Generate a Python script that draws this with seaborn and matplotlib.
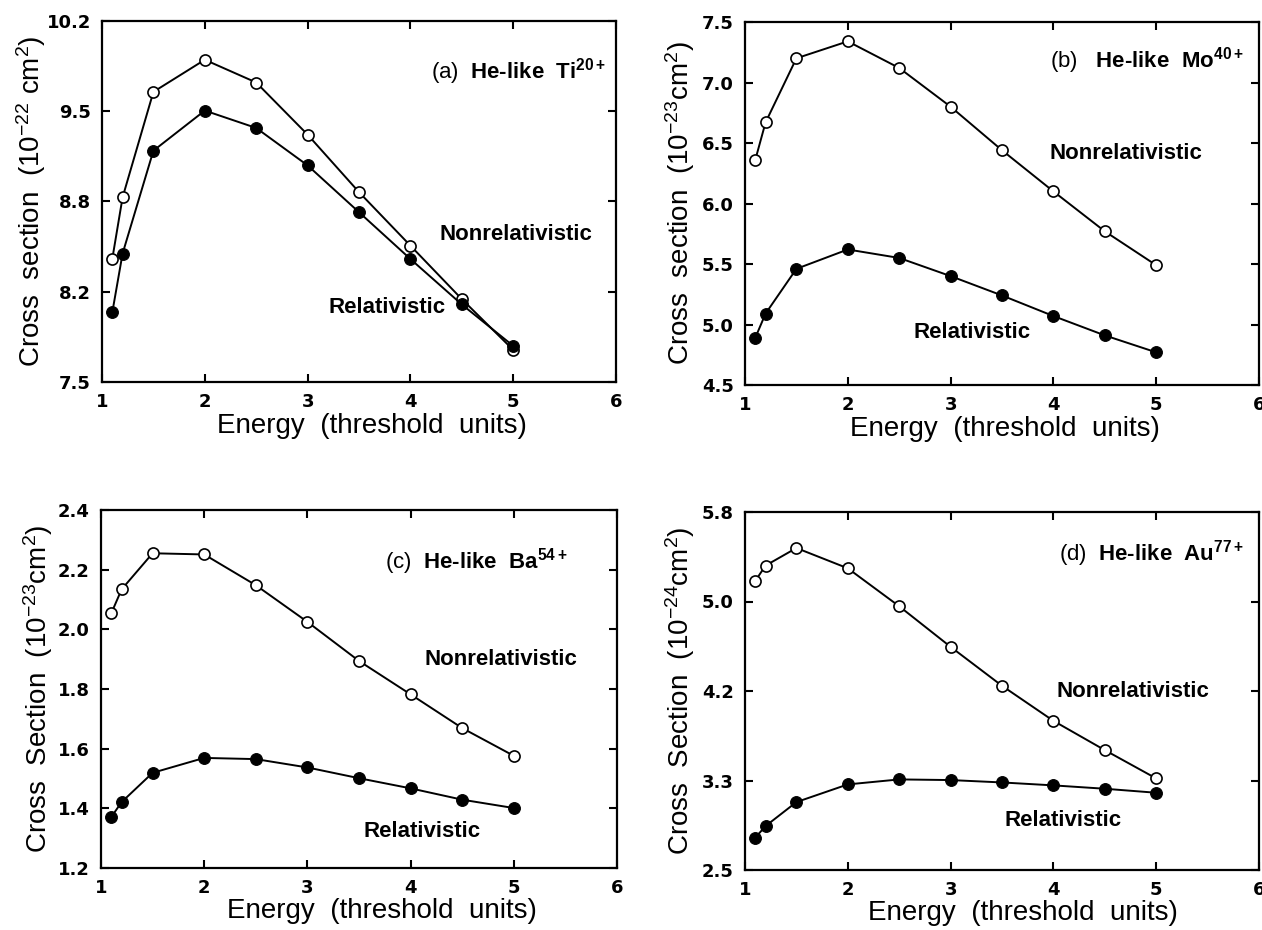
import numpy as np
import pandas as pd
import matplotlib
matplotlib.use("Agg")
import matplotlib.pyplot as plt
import seaborn as sns

# ---------------- data ----------------
energy = [1.1, 1.2, 1.5, 2.0, 2.5, 3.0, 3.5, 4.0, 4.5, 5.0]

ti_nonrel = [8.42, 8.88, 9.67, 9.91, 9.74, 9.35, 8.92, 8.52, 8.12, 7.74]
ti_rel = [8.02, 8.46, 9.23, 9.53, 9.40, 9.12, 8.77, 8.42, 8.08, 7.77]

mo_nonrel = [6.36, 6.67, 7.20, 7.34, 7.12, 6.80, 6.44, 6.10, 5.77, 5.49]
mo_rel = [4.89, 5.09, 5.46, 5.62, 5.55, 5.40, 5.24, 5.07, 4.91, 4.77]

ba_nonrel = [2.054, 2.134, 2.255, 2.251, 2.148, 2.025, 1.894, 1.782, 1.669, 1.576]
ba_rel = [1.371, 1.421, 1.519, 1.569, 1.565, 1.537, 1.501, 1.467, 1.429, 1.401]

au_nonrel = [5.165, 5.306, 5.468, 5.281, 4.931, 4.557, 4.198, 3.875, 3.605, 3.344]
au_rel = [2.798, 2.905, 3.126, 3.289, 3.335, 3.329, 3.307, 3.280, 3.249, 3.212]

x_ticks = [1, 2, 3, 4, 5, 6]

ti_yticks = [7.5, 8.175, 8.85, 9.525, 10.2]
ti_ylabels = ["7.5", "8.2", "8.8", "9.5", "10.2"]
mo_yticks = [4.5, 5.0, 5.5, 6.0, 6.5, 7.0, 7.5]
mo_ylabels = ["4.5", "5.0", "5.5", "6.0", "6.5", "7.0", "7.5"]
ba_yticks = [1.2, 1.4, 1.6, 1.8, 2.0, 2.2, 2.4]
ba_ylabels = ["1.2", "1.4", "1.6", "1.8", "2.0", "2.2", "2.4"]
au_yticks = [2.5, 3.325, 4.15, 4.975, 5.8]
au_ylabels = ["2.5", "3.3", "4.2", "5.0", "5.8"]

panel_titles = [r"$\mathrm{(a)}$  He-like  Ti$^{\mathbf{20+}}$",
                r"$\mathrm{(b)}$   He-like  Mo$^{\mathbf{40+}}$",
                r"$\mathrm{(c)}$  He-like  Ba$^{\mathbf{54+}}$",
                r"$\mathrm{(d)}$  He-like  Au$^{\mathbf{77+}}$"]
ylabels = [r"Cross  section  (10$^{-22}$ cm$^{2}$)",
           r"Cross  section  (10$^{-23}$cm$^{2}$)",
           r"Cross  Section  (10$^{-23}$cm$^{2}$)",
           r"Cross  Section  (10$^{-24}$cm$^{2}$)"]
xlabel = "Energy  (threshold  units)"
label_nonrel = "Nonrelativistic"
label_rel = "Relativistic"

# ---------------- style ----------------
sns.set_theme(style="ticks")
plt.rcParams["font.family"] = ["Liberation Sans", "DejaVu Sans"]
plt.rcParams["mathtext.fontset"] = "custom"
plt.rcParams["mathtext.rm"] = "Liberation Sans"
plt.rcParams["mathtext.it"] = "Liberation Sans:italic"
plt.rcParams["mathtext.bf"] = "Liberation Sans:bold"
plt.rcParams["mathtext.default"] = "regular"

fig = plt.figure(figsize=(12.62, 9.30), dpi=100)
fig.patch.set_facecolor("white")

rects = [
    [102 / 1262, 1 - 382 / 930, 514 / 1262, 361 / 930],
    [745 / 1262, 1 - 385 / 930, 514 / 1262, 363 / 930],
    [101 / 1262, 1 - 868 / 930, 516 / 1262, 358 / 930],
    [745 / 1262, 1 - 870 / 930, 514 / 1262, 358 / 930],
]

panels = [
    (ti_nonrel, ti_rel, (7.5, 10.2), ti_yticks, ti_ylabels,
     (5.03, 8.60), (3.77, 8.06), (0.98, 0.86), -0.105, 0.525),
    (mo_nonrel, mo_rel, (4.5, 7.5), mo_yticks, mo_ylabels,
     (4.71, 6.415), (3.21, 4.93), (0.971, 0.893), -0.093, 0.505),
    (ba_nonrel, ba_rel, (1.2, 2.4), ba_yticks, ba_ylabels,
     (4.88, 1.899), (4.11, 1.323), (0.905, 0.855), -0.089, 0.545),
    (au_nonrel, au_rel, (2.5, 5.8), au_yticks, au_ylabels,
     (4.77, 4.142), (4.09, 2.954), (0.971, 0.884), -0.093, 0.54),
]

for i, (nonrel, rel, ylim, yt, ytl, pos_nr, pos_r, pos_t, ylx, xlx) in enumerate(panels):
    ax = fig.add_axes(rects[i])
    df = pd.DataFrame({"energy": energy, "nonrel": nonrel, "rel": rel})
    sns.lineplot(data=df, x="energy", y="nonrel", ax=ax, color="black",
                 linewidth=1.4, marker="o", markersize=8,
                 markerfacecolor="white", markeredgecolor="black",
                 markeredgewidth=1.2, zorder=3)
    sns.lineplot(data=df, x="energy", y="rel", ax=ax, color="black",
                 linewidth=1.4, marker="o", markersize=8.5,
                 markerfacecolor="black", markeredgecolor="black", zorder=4)
    ax.set_xlim(1, 6)
    ax.set_ylim(*ylim)
    ax.set_xticks(x_ticks)
    ax.set_xticklabels([str(v) for v in x_ticks])
    ax.set_yticks(yt)
    ax.set_yticklabels(ytl)
    ax.tick_params(direction="in", length=6, width=1.5, top=True, right=True,
                   pad=8, colors="black")
    for lab in ax.get_xticklabels() + ax.get_yticklabels():
        lab.set_fontfamily("DejaVu Sans")
        lab.set_fontweight("bold")
        lab.set_fontsize(13)
    for sp in ax.spines.values():
        sp.set_visible(True)
        sp.set_linewidth(1.6)
        sp.set_color("black")
    ax.set_xlabel(xlabel, fontsize=20, color="black")
    ax.set_ylabel(ylabels[i], fontsize=20, color="black")
    ax.yaxis.set_label_coords(ylx, 0.5)
    ax.xaxis.set_label_coords(xlx, -0.085)
    ax.text(pos_nr[0], pos_nr[1], label_nonrel, ha="center", va="center",
            fontsize=16, fontweight="bold", color="black")
    ax.text(pos_r[0], pos_r[1], label_rel, ha="center", va="center",
            fontsize=16, fontweight="bold", color="black")
    ax.text(pos_t[0], pos_t[1], panel_titles[i], transform=ax.transAxes,
            ha="right", va="center", fontsize=16, fontweight="bold",
            color="black")
    ax.set_facecolor("white")
    ax.grid(False)

fig.savefig("out.png", dpi=100, facecolor="white")
